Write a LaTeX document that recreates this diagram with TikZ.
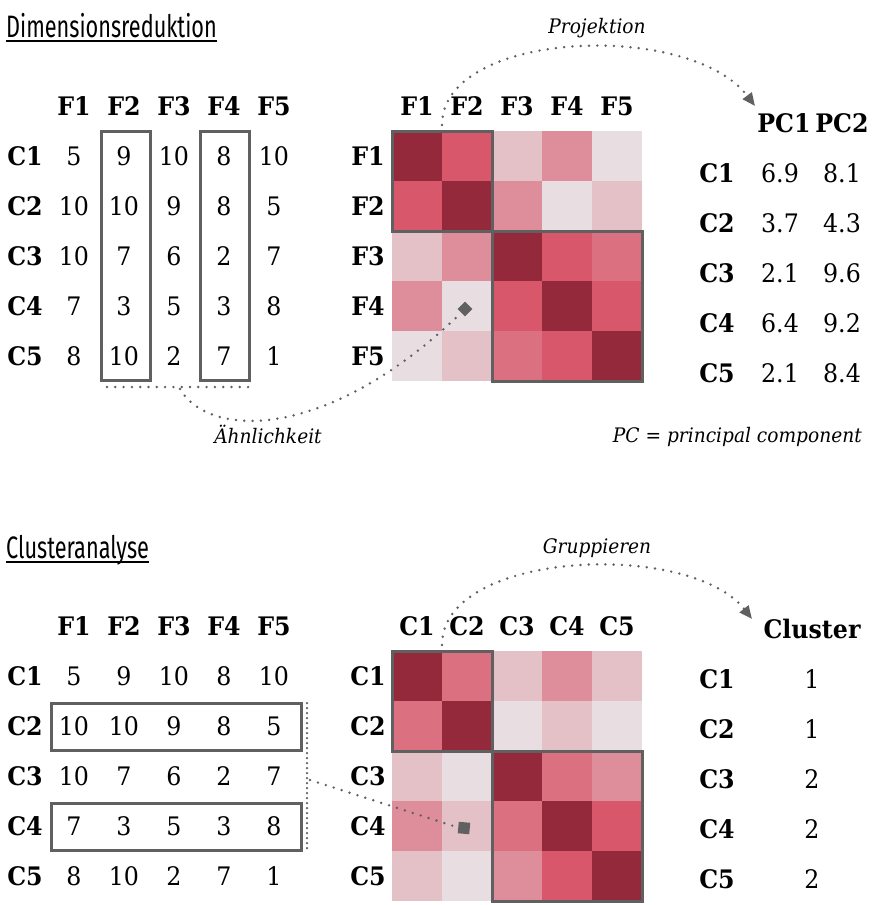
\documentclass[tikz,border=0pt]{standalone}
\usepackage{fontspec}
\setmainfont{DejaVu Serif}[FakeStretch=0.93]
\newfontfamily\headfont{Fira Sans}[FakeStretch=0.7]
\usetikzlibrary{arrows.meta,shapes.geometric}
\definecolor{cdark}{HTML}{93293B}
\definecolor{cred}{HTML}{D8576A}
\definecolor{cmid}{HTML}{DB7080}
\definecolor{cpink}{HTML}{DE8E9B}
\definecolor{clight}{HTML}{E4C0C7}
\definecolor{cvlight}{HTML}{E8DEE1}
\definecolor{cgrey}{HTML}{606060}
\begin{document}
\begin{tikzpicture}[x=1pt,y=-1pt,
  num/.style={font=\fontsize{25.5}{30}\selectfont, inner sep=0pt, anchor=base},
  lab/.style={font=\fontsize{25.5}{30}\selectfont\bfseries, inner sep=0pt, anchor=base},
  note/.style={font=\fontsize{20}{24}\selectfont\itshape, inner sep=0pt, anchor=base},
  head/.style={font=\headfont\fontsize{31}{36}\selectfont, inner sep=0pt, anchor=base west},
  frame/.style={draw=cgrey, line width=3pt},
  dots/.style={draw=cgrey, line width=2.7pt, line cap=round, dash pattern=on 0pt off 8.3pt},
  densedots/.style={draw=cgrey, line width=2.5pt, line cap=round, dash pattern=on 0pt off 5pt},
  tipstyle/.style={-{Triangle[length=13pt,width=11pt]}},
  marker/.style={fill=cgrey, inner sep=0pt}
]
\useasboundingbox (0,0) rectangle (877,905);
\fill[white] (0,0) rectangle (877,905);

% ---------- headings ----------
\node[head] (h1) at (6,37) {Dimensionsreduktion};
\draw[line width=2pt] ([yshift=-3.5pt]h1.base west) -- ([yshift=-3.5pt]h1.base east);
\node[head] (h2) at (6,558) {Clusteranalyse};
\draw[line width=2pt] ([yshift=-3.5pt]h2.base west) -- ([yshift=-3.5pt]h2.base east);

% ---------- top data table ----------
\foreach \c in {1,...,5} \node[lab] (ta-h\c) at (24+50*\c,115) {F\c};
\foreach \vals [count=\r] in {{5,9,10,8,10},{10,10,9,8,5},{10,7,6,2,7},{7,3,5,3,8},{8,10,2,7,1}} {
  \node[lab] (ta-r\r) at (25,115+50*\r) {C\r};
  \foreach \v [count=\c] in \vals { \node[num] (ta-\r-\c) at (24+50*\c,115+50*\r) {\v}; }
}
\draw[frame] (101,131) rectangle (150,380);
\draw[frame] (200.5,131) rectangle (249.5,380);

% ---------- top heatmap ----------
\foreach \row [count=\i from 0] in {{cdark,cred,clight,cpink,cvlight},{cred,cdark,cpink,cvlight,clight},{clight,cpink,cdark,cred,cmid},{cpink,cvlight,cred,cdark,cred},{cvlight,clight,cmid,cred,cdark}} {
  \foreach \col [count=\j from 0] in \row { \fill[\col] (392+50*\j,131+50*\i) rectangle ++(50,50); }
}
\draw[frame] (392,131) rectangle (492,231);
\draw[frame] (492,231) rectangle (642,381);
\foreach \c in {1,...,5} {
  \node[lab] (ha-h\c) at (367+50*\c,115) {F\c};
  \node[lab] (ha-r\c) at (368,115+50*\c) {F\c};
}
\node[diamond, marker, minimum width=15pt, minimum height=15pt] (dia) at (465,309) {};

% ---------- PC table ----------
\node[lab] (pc-h1) at (784,132) {PC1};
\node[lab] (pc-h2) at (842,132) {PC2};
\foreach \a/\b [count=\r] in {6.9/8.1,3.7/4.3,2.1/9.6,6.4/9.2,2.1/8.4} {
  \node[lab] (pc-r\r) at (717,132+50*\r) {C\r};
  \node[num] (pc-\r-1) at (780,132+50*\r) {\a};
  \node[num] (pc-\r-2) at (842,132+50*\r) {\b};
}
\node[note, anchor=base east] (pcnote) at (862,442) {PC = principal component};

% ---------- top connectors ----------
\coordinate (simL) at (107,387);
\coordinate (simR) at (252,387);
\coordinate (simS) at (180,389);
\coordinate (projS) at (442,125);
\coordinate (projE) at (755,106);
\draw[dots] (simL) -- (simR);
\draw[dots] (simS) .. controls (210,440) and (330,440) .. (dia.south west);
\node[note] (sim) at (268,443) {Ähnlichkeit};
\draw[dots, tipstyle] (projS) .. controls (442,30) and (690,20) .. (projE);
\node[note] (proj) at (597,33) {Projektion};

% ---------- bottom data table ----------
\foreach \c in {1,...,5} \node[lab] (tb-h\c) at (24+50*\c,635) {F\c};
\foreach \vals [count=\r] in {{5,9,10,8,10},{10,10,9,8,5},{10,7,6,2,7},{7,3,5,3,8},{8,10,2,7,1}} {
  \node[lab] (tb-r\r) at (25,635+50*\r) {C\r};
  \foreach \v [count=\c] in \vals { \node[num] (tb-\r-\c) at (24+50*\c,635+50*\r) {\v}; }
}
\draw[frame] (51,703) rectangle (301,750);
\draw[frame] (51,803) rectangle (301,850);

% ---------- bottom heatmap ----------
\foreach \row [count=\i from 0] in {{cdark,cmid,clight,cpink,clight},{cmid,cdark,cvlight,clight,cvlight},{clight,cvlight,cdark,cmid,cpink},{cpink,clight,cmid,cdark,cred},{clight,cvlight,cpink,cred,cdark}} {
  \foreach \col [count=\j from 0] in \row { \fill[\col] (392+50*\j,651+50*\i) rectangle ++(50,50); }
}
\draw[frame] (392,651) rectangle (492,751);
\draw[frame] (492,751) rectangle (642,901);
\foreach \c in {1,...,5} {
  \node[lab] (hb-h\c) at (367+50*\c,635) {C\c};
  \node[lab] (hb-r\c) at (368,635+50*\c) {C\c};
}
\node[rectangle, marker, minimum size=11.5pt, rotate=-5] (sq) at (464,828) {};

% ---------- cluster table ----------
\node[lab] (cl-h) at (812,638) {Cluster};
\foreach \v [count=\r] in {1,1,2,2,2} {
  \node[lab] (cl-r\r) at (717,638+50*\r) {C\r};
  \node[num] (cl-\r) at (812,638+50*\r) {\v};
}

% ---------- bottom connectors ----------
\coordinate (rowT) at (307,703);
\coordinate (rowB) at (307,850);
\coordinate (rowM) at (310,780);
\coordinate (grpS) at (442,645);
\coordinate (grpE) at (752,619);
\draw[densedots] (rowT) -- (rowB);
\draw[dots] (rowM) -- (sq.west);
\draw[dots, tipstyle] (grpS) .. controls (442,550) and (690,540) .. (grpE);
\node[note] (grp) at (597,553) {Gruppieren};
\end{tikzpicture}
\end{document}
